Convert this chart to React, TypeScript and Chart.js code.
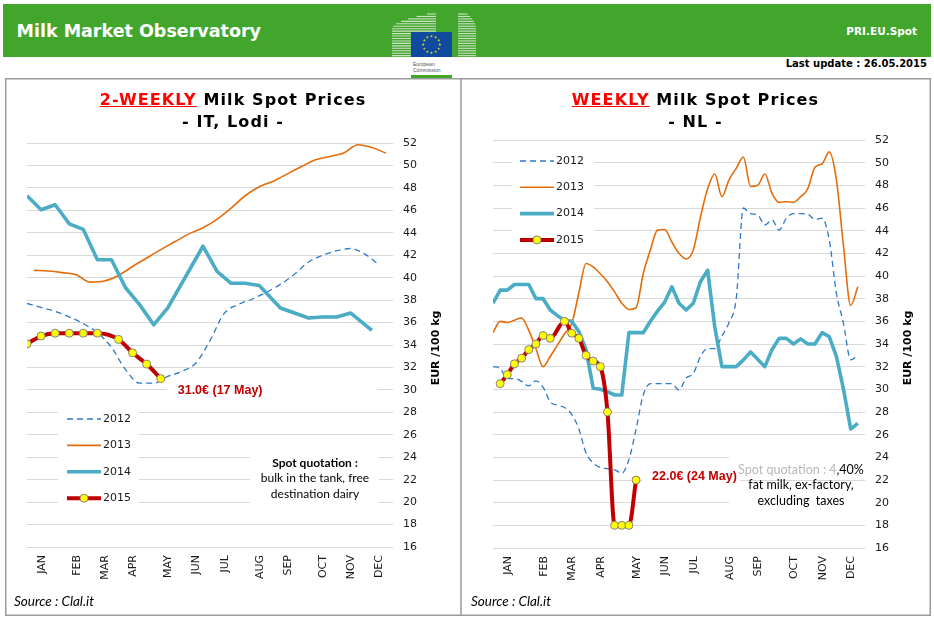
import React, { useEffect, useRef } from 'react';
import { Chart, registerables } from 'chart.js';

Chart.register(...registerables);

// ---------- axis / tick data ----------
const monthLabels = ['JAN', 'FEB', 'MAR', 'APR', 'MAY', 'JUN', 'JUL', 'AUG', 'SEP', 'OCT', 'NOV', 'DEC'];
const monthTickWeeks = [2.1, 7.1, 11.1, 15.1, 20.1, 24.1, 28.1, 33.1, 37.1, 42.1, 46.1, 50.0];
const yMin = 16;
const yMax = 52;
const yStep = 2;
const seriesNames = ['2012', '2013', '2014', '2015'];

// ---------- IT, Lodi (2-weekly) ----------
const itWeeks2012 = [0, 2, 4, 6, 8, 10, 12, 14, 16, 18, 20, 22, 24, 26, 28, 30, 32, 34, 36, 38, 40, 42, 44, 46, 48, 50];
const itPrice2012 = [37.7, 37.35, 37.0, 36.5, 35.9, 35.1, 33.8, 31.8, 30.6, 30.6, 31.2, 31.65, 32.4, 34.4, 36.8, 37.6, 38.1, 38.7, 39.4, 40.3, 41.4, 42.0, 42.4, 42.6, 42.1, 41.15];
const itWeeks2013 = [1, 3, 5, 7, 9, 11, 13, 15, 17, 19, 21, 23, 25, 27, 29, 31, 33, 35, 37, 39, 41, 43, 45, 47, 49, 51];
const itPrice2013 = [40.65, 40.6, 40.45, 40.25, 39.6, 39.7, 40.2, 41.0, 41.75, 42.5, 43.2, 43.9, 44.45, 45.2, 46.2, 47.3, 48.1, 48.6, 49.25, 49.9, 50.5, 50.8, 51.1, 51.85, 51.6, 51.1];
const itWeeks2014 = [0, 2, 4, 6, 8, 10, 12, 14, 16, 18, 20, 25, 27, 29, 31, 33, 36, 40, 42, 44, 46, 49];
const itPrice2014 = [47.3, 46.05, 46.5, 44.8, 44.3, 41.6, 41.6, 39.1, 37.6, 35.8, 37.3, 42.8, 40.55, 39.5, 39.5, 39.3, 37.3, 36.4, 36.5, 36.5, 36.85, 35.3];
const itWeeks2015 = [0, 2, 4, 6, 8, 10, 13, 15, 17, 19];
const itPrice2015 = [34.1, 34.8, 35.05, 35.05, 35.05, 35.05, 34.5, 33.3, 32.3, 31.0];

// ---------- NL (weekly) ----------
const nlWeeks = [0, 1, 2, 3, 4, 5, 6, 7, 8, 9, 10, 11, 12, 13, 14, 15, 16, 17, 18, 19, 20, 21, 22, 23, 24, 25, 26, 27, 28, 29, 30, 31, 32, 33, 34, 35, 36, 37, 38, 39, 40, 41, 42, 43, 44, 45, 46, 47, 48, 49, 50, 51];
const nlPrice2012 = [32.0, 31.85, 30.95, 30.95, 30.7, 30.3, 30.75, 30.2, 28.9, 28.6, 28.4, 27.8, 26.5, 24.4, 23.5, 23.1, 23.0, 22.9, 22.6, 23.8, 26.5, 29.5, 30.5, 30.5, 30.5, 30.5, 29.95, 31.0, 31.4, 32.9, 33.6, 33.6, 34.7, 35.9, 38.0, 46.0, 45.5, 45.4, 44.5, 44.95, 44.05, 45.1, 45.5, 45.5, 45.45, 45.0, 45.1, 43.2, 38.5, 35.8, 32.6, 33.0];
const nlPrice2013 = [35.0, 36.0, 35.9, 36.1, 36.3, 35.2, 33.6, 32.0, 32.9, 33.9, 34.9, 35.8, 38.5, 41.1, 40.8, 40.2, 39.5, 38.6, 37.6, 37.05, 37.2, 40.2, 42.3, 44.05, 44.1, 43.0, 42.0, 41.5, 42.3, 45.2, 47.7, 49.0, 47.0, 48.5, 49.5, 50.5, 47.9, 48.0, 49.0, 47.3, 46.5, 46.55, 46.5, 47.0, 47.7, 49.6, 49.9, 50.95, 48.5, 42.6, 37.4, 39.05];
const nlPrice2014 = [37.6, 38.75, 38.75, 39.25, 39.25, 39.25, 38.0, 38.0, 37.0, 36.5, 36.1, 36.0, 35.1, 33.5, 30.1, 30.0, 29.8, 29.5, 29.5, 35.0, 35.0, 35.0, 36.0, 36.9, 37.7, 39.05, 37.6, 37.0, 37.6, 39.5, 40.5, 35.5, 32.0, 32.0, 32.0, 32.6, 33.3, 32.65, 32.0, 33.5, 34.5, 34.5, 34.0, 34.45, 34.0, 34.0, 35.0, 34.65, 32.9, 30.0, 26.5, 27.0];
const nlWeeks2015 = [1, 2, 3, 4, 5, 6, 7, 8, 10, 11, 12, 13, 14, 15, 16, 17, 18, 19, 20];
const nlPrice2015 = [30.5, 31.3, 32.25, 32.75, 33.5, 34.0, 34.75, 34.5, 36.0, 34.95, 34.5, 33.0, 32.5, 32.0, 28.0, 18.0, 18.0, 18.0, 22.0];

// ---------- styles ----------
const GREEN = '#42a62d';
const C2012 = '#2f78c8';
const C2013 = '#e46c0a';
const C2014 = '#4bacc6';
const C2015 = '#c00000';
const GRID = '#d9d9d9';

function pts(weeks: number[], vals: number[]) {
  return weeks.map((w, i) => ({ x: w, y: vals[i] }));
}

function makeDatasets(d12: any[], d13: any[], d14: any[], d15: any[]) {
  return [
    {
      label: seriesNames[0], data: d12, borderColor: C2012, borderWidth: 1.3, borderDash: [6, 4],
      pointRadius: 0, cubicInterpolationMode: 'monotone', order: 3,
    },
    {
      label: seriesNames[1], data: d13, borderColor: C2013, borderWidth: 1.6,
      pointRadius: 0, cubicInterpolationMode: 'monotone', order: 2,
    },
    {
      label: seriesNames[2], data: d14, borderColor: C2014, borderWidth: 3.6,
      pointRadius: 0, tension: 0, order: 1, borderJoinStyle: 'round',
    },
    {
      label: seriesNames[3], data: d15, borderColor: C2015, borderWidth: 4,
      pointRadius: 4, pointBackgroundColor: '#ffff00', pointBorderColor: '#8a7f80', pointBorderWidth: 1,
      cubicInterpolationMode: 'monotone', order: 0, borderJoinStyle: 'round',
    },
  ];
}

type QuotePart = { t: string; color: string; bold?: boolean };
type Spec = {
  padding: { left: number; top: number; right: number; bottom: number };
  datasets: any[];
  legend: { x: number; y: number; dy: number };
  whiteRects: number[][];
  quote: { cx: number; size: number; lines: { y: number; parts: QuotePart[] }[] };
  label: { text: string; dx: number; dy: number };
};

function decorPlugin(spec: Spec) {
  return {
    id: 'decor',
    beforeDatasetsDraw(chart: any) {
      const ctx = chart.ctx;
      ctx.save();
      ctx.fillStyle = '#ffffff';
      spec.whiteRects.forEach((r) => ctx.fillRect(r[0], r[1], r[2], r[3]));
      ctx.restore();
    },
    afterDraw(chart: any) {
      const ctx = chart.ctx;
      const ca = chart.chartArea;
      const xs = chart.scales.x;
      const ys = chart.scales.y;
      // legend
      chart.data.datasets.forEach((ds: any, i: number) => {
        const y = spec.legend.y + i * spec.legend.dy;
        const x0 = spec.legend.x;
        ctx.save();
        ctx.strokeStyle = ds.borderColor;
        ctx.lineWidth = ds.borderWidth;
        ctx.setLineDash(ds.borderDash || []);
        ctx.beginPath();
        ctx.moveTo(x0, y);
        ctx.lineTo(x0 + 34, y);
        ctx.stroke();
        ctx.setLineDash([]);
        if (ds.pointRadius) {
          ctx.beginPath();
          ctx.arc(x0 + 17, y, ds.pointRadius, 0, Math.PI * 2);
          ctx.fillStyle = ds.pointBackgroundColor;
          ctx.fill();
          ctx.lineWidth = 1;
          ctx.strokeStyle = ds.pointBorderColor;
          ctx.stroke();
        }
        ctx.fillStyle = '#1a1a1a';
        ctx.font = '11px "DejaVu Sans"';
        ctx.textBaseline = 'middle';
        ctx.textAlign = 'left';
        ctx.fillText(ds.label, x0 + 36, y);
        ctx.restore();
      });
      // quote text
      ctx.save();
      ctx.textBaseline = 'middle';
      spec.quote.lines.forEach((ln) => {
        let total = 0;
        ln.parts.forEach((p) => {
          ctx.font = `${p.bold ? 'bold ' : ''}${spec.quote.size}px Lato`;
          total += ctx.measureText(p.t).width;
        });
        let x = spec.quote.cx - total / 2;
        ln.parts.forEach((p) => {
          ctx.font = `${p.bold ? 'bold ' : ''}${spec.quote.size}px Lato`;
          ctx.fillStyle = p.color;
          ctx.textAlign = 'left';
          ctx.fillText(p.t, x, ln.y);
          x += ctx.measureText(p.t).width;
        });
      });
      ctx.restore();
      // last-value label
      const last = chart.data.datasets[3].data[chart.data.datasets[3].data.length - 1];
      ctx.save();
      ctx.font = 'bold 12.5px "Liberation Sans"';
      ctx.fillStyle = C2015;
      ctx.textAlign = 'left';
      ctx.textBaseline = 'middle';
      ctx.fillText(spec.label.text, xs.getPixelForValue(last.x) + spec.label.dx, ys.getPixelForValue(last.y) + spec.label.dy);
      ctx.restore();
      // axis title
      ctx.save();
      ctx.translate(ca.right + 43, 348);
      ctx.rotate(-Math.PI / 2);
      ctx.font = 'bold 11px "DejaVu Sans"';
      ctx.fillStyle = '#000';
      ctx.textAlign = 'center';
      ctx.textBaseline = 'middle';
      ctx.fillText('EUR /100 kg', 0, 0);
      ctx.restore();
    },
  };
}

function buildConfig(spec: Spec): any {
  return {
    type: 'line',
    data: { datasets: spec.datasets },
    options: {
      animation: false,
      responsive: false,
      devicePixelRatio: 1,
      layout: { padding: spec.padding },
      plugins: { legend: { display: false }, tooltip: { enabled: false } },
      scales: {
        x: {
          type: 'linear',
          min: 0,
          max: 52,
          grid: { display: false, drawTicks: false },
          border: { display: false },
          afterBuildTicks: (scale: any) => {
            scale.ticks = monthTickWeeks.map((v) => ({ value: v }));
          },
          afterFit: (scale: any) => {
            scale.height = 40;
          },
          ticks: {
            autoSkip: false,
            minRotation: 90,
            maxRotation: 90,
            padding: 8,
            color: '#1a1a1a',
            font: { family: 'DejaVu Sans', size: 11 },
            callback: (_v: any, i: number) => monthLabels[i],
          },
        },
        y: {
          position: 'right',
          min: yMin,
          max: yMax,
          grid: { color: GRID, lineWidth: 1, drawTicks: false },
          border: { display: false },
          afterFit: (scale: any) => {
            scale.width = 30;
          },
          ticks: {
            stepSize: yStep,
            padding: 10,
            color: '#1a1a1a',
            font: { family: 'DejaVu Sans', size: 11 },
          },
        },
      },
    },
    plugins: [decorPlugin(spec)],
  };
}

const leftSpec: Spec = {
  padding: { left: 27, top: 143, right: 511, bottom: 32 },
  datasets: makeDatasets(
    pts(itWeeks2012, itPrice2012),
    pts(itWeeks2013, itPrice2013),
    pts(itWeeks2014, itPrice2014),
    pts(itWeeks2015, itPrice2015),
  ),
  legend: { x: 67, y: 419, dy: 26.4 },
  whiteRects: [[58, 404, 81, 104], [250, 448, 129, 58], [167, 385, 210, 10]],
  quote: {
    cx: 315,
    size: 12,
    lines: [
      { y: 463.5, parts: [{ t: 'Spot quotation :', color: '#000', bold: true }] },
      { y: 478.5, parts: [{ t: 'bulk in the tank, free', color: '#000' }] },
      { y: 494, parts: [{ t: 'destination dairy', color: '#000' }] },
    ],
  },
  label: { text: '31.0€ (17 May)', dx: 17, dy: 12 },
};

const rightSpec: Spec = {
  padding: { left: 493, top: 140, right: 39, bottom: 31 },
  datasets: makeDatasets(
    pts(nlWeeks, nlPrice2012),
    pts(nlWeeks, nlPrice2013),
    pts(nlWeeks, nlPrice2014),
    pts(nlWeeks2015, nlPrice2015),
  ),
  legend: { x: 520, y: 161, dy: 26.3 },
  whiteRects: [[512, 150, 82, 93], [729, 451, 137, 11], [729, 496, 137, 12], [642, 473, 98, 11]],
  quote: {
    cx: 801,
    size: 12.5,
    lines: [
      { y: 469.5, parts: [{ t: 'Spot quotation : 4', color: '#b8b8b8' }, { t: ',40%', color: '#000' }] },
      { y: 485, parts: [{ t: 'fat milk, ex-factory,', color: '#000' }] },
      { y: 500.5, parts: [{ t: 'excluding  taxes', color: '#000' }] },
    ],
  },
  label: { text: '22.0€ (24 May)', dx: 16, dy: -3 },
};

function Star({ cx, cy, r }: { cx: number; cy: number; r: number }) {
  const p: string[] = [];
  for (let i = 0; i < 10; i++) {
    const a = -Math.PI / 2 + (i * Math.PI) / 5;
    const rr = i % 2 === 0 ? r : r * 0.42;
    p.push(`${cx + rr * Math.cos(a)},${cy + rr * Math.sin(a)}`);
  }
  return <polygon points={p.join(' ')} fill="#ffdd00" />;
}

function Logo() {
  const lines: any[] = [];
  for (let i = 0; i < 18; i++) {
    const y = 14 + i * 2.45;
    const t = Math.min(1, (y - 13) / 16);
    const xs = 392 + 40 * Math.pow(1 - t, 2);
    lines.push(<line key={'l' + i} x1={xs} y1={y} x2={436} y2={y} stroke="#e4ece0" strokeOpacity={0.85} strokeWidth={1.1} />);
    const xe = 476 - 16 * Math.pow(1 - t, 2) * 0.6;
    lines.push(<line key={'r' + i} x1={458} y1={y} x2={xe} y2={y} stroke="#e4ece0" strokeOpacity={0.85} strokeWidth={1.1} />);
  }
  const stars: any[] = [];
  for (let k = 0; k < 12; k++) {
    const a = (k * Math.PI) / 6;
    stars.push(<Star key={k} cx={431.5 + 8.3 * Math.cos(a)} cy={44.5 + 8.3 * Math.sin(a)} r={1.5} />);
  }
  return (
    <g>
      {lines}
      <rect x={411} y={32} width={41} height={25} fill="#0e4b9e" />
      {stars}
      <text x={413} y={66} fontSize={5} fill="#555" fontFamily="Liberation Sans">European</text>
      <text x={413} y={71.5} fontSize={5} fill="#555" fontFamily="Liberation Sans">Commission</text>
      <rect x={411} y={75} width={41} height={3} fill={GREEN} />
    </g>
  );
}

const titleStyle: React.CSSProperties = {
  position: 'absolute',
  top: 89,
  textAlign: 'center',
  fontFamily: '"DejaVu Sans"',
  fontWeight: 'bold',
  fontSize: 16,
  lineHeight: '21.7px',
  letterSpacing: '1.1px',
  color: '#000',
  whiteSpace: 'nowrap',
};

const sourceStyle: React.CSSProperties = {
  position: 'absolute',
  top: 593,
  fontFamily: 'Lato',
  fontStyle: 'italic',
  fontSize: 13.5,
  lineHeight: '16px',
  color: '#000',
  whiteSpace: 'nowrap',
};

export default function App() {
  const leftRef = useRef<HTMLCanvasElement>(null);
  const rightRef = useRef<HTMLCanvasElement>(null);

  useEffect(() => {
    const c1 = new Chart(leftRef.current as HTMLCanvasElement, buildConfig(leftSpec));
    const c2 = new Chart(rightRef.current as HTMLCanvasElement, buildConfig(rightSpec));
    return () => {
      c1.destroy();
      c2.destroy();
    };
  }, []);

  return (
    <div style={{ position: 'fixed', left: 0, top: 0, width: 934, height: 619, background: '#fff', overflow: 'hidden' }}>
      <svg width={934} height={619} style={{ position: 'absolute', left: 0, top: 0 }}>
        <rect x={3} y={4} width={928} height={53} fill={GREEN} />
        <Logo />
        <text x={16.5} y={37.3} fontFamily="DejaVu Sans" fontWeight="bold" fontSize={17.5} fill="#fff">Milk Market Observatory</text>
        <text x={917} y={34.5} textAnchor="end" fontFamily="DejaVu Sans" fontWeight="bold" fontSize={10.5} fill="#fff">PRI.EU.Spot</text>
        <text x={927} y={66.7} textAnchor="end" fontFamily="DejaVu Sans" fontWeight="bold" fontSize={10} fill="#000">Last update : 26.05.2015</text>
        <rect x={5.75} y={78.75} width={924.5} height={536.5} fill="none" stroke="#9a9a9a" strokeWidth={1.5} />
        <line x1={461} y1={78} x2={461} y2={615.5} stroke="#9a9a9a" strokeWidth={1.5} />
      </svg>
      <canvas ref={leftRef} width={934} height={619} style={{ position: 'absolute', left: 0, top: 0, width: 934, height: 619 }} />
      <canvas ref={rightRef} width={934} height={619} style={{ position: 'absolute', left: 0, top: 0, width: 934, height: 619 }} />
      <div style={{ ...titleStyle, left: 5, width: 456 }}>
        <span style={{ color: '#ff0000', textDecoration: 'underline' }}>2-WEEKLY</span> Milk Spot Prices
        <br />- IT, Lodi -
      </div>
      <div style={{ ...titleStyle, left: 461, width: 469 }}>
        <span style={{ color: '#ff0000', textDecoration: 'underline' }}>WEEKLY</span> Milk Spot Prices
        <br />- NL -
      </div>
      <div style={{ ...sourceStyle, left: 14 }}>Source : Clal.it</div>
      <div style={{ ...sourceStyle, left: 471 }}>Source : Clal.it</div>
    </div>
  );
}
